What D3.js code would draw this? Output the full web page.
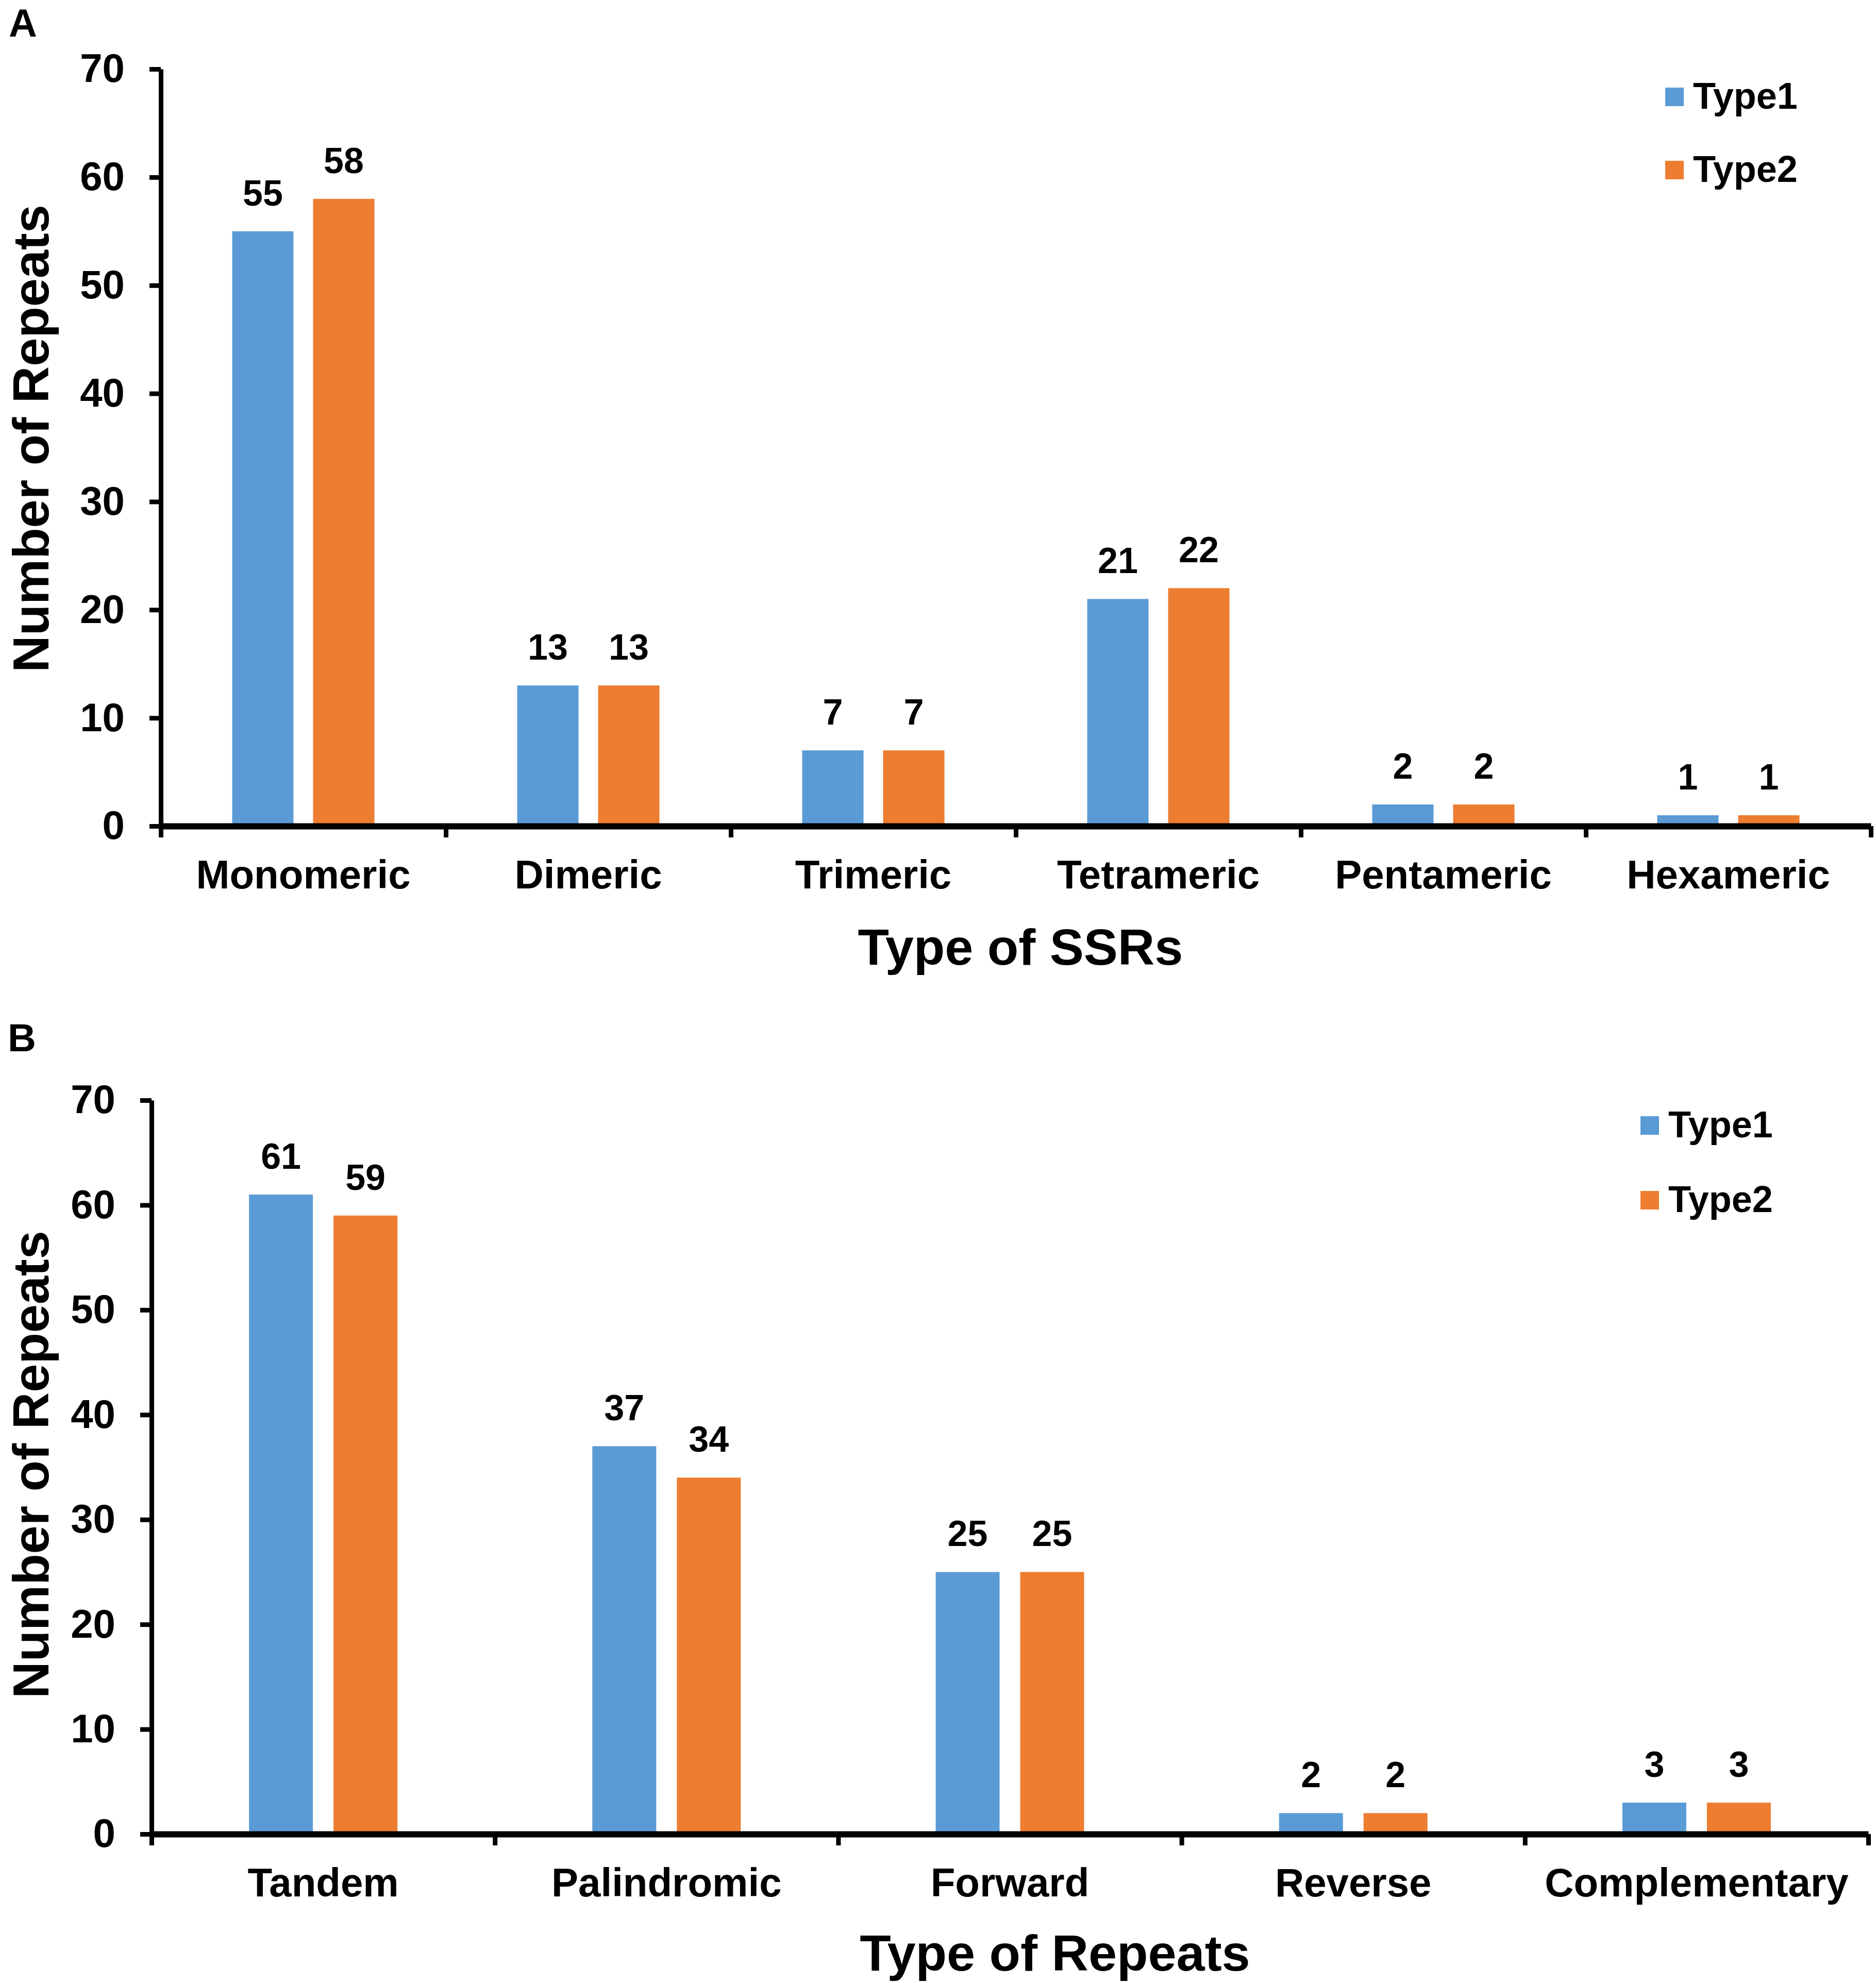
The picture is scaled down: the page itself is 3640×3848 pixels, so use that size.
<!DOCTYPE html>
<html>
<head>
<meta charset="utf-8">
<script src="https://cdn.jsdelivr.net/npm/d3@7"></script>
<style>
  body { margin: 0; background: #fff; }
  text { font-family: "Liberation Sans", Arial, sans-serif; font-weight: bold; fill: #000; }
</style>
</head>
<body>
<div class="viz"></div>
<script>
// data
var seriesNames = ["Type1", "Type2"];
var seriesColors = ["#5B9BD5", "#ED7D31"];
var yTicks = [0, 10, 20, 30, 40, 50, 60, 70];

var ssrCategories = ["Monomeric", "Dimeric", "Trimeric", "Tetrameric", "Pentameric", "Hexameric"];
var ssrType1 = [55, 13, 7, 21, 2, 1];
var ssrType2 = [58, 13, 7, 22, 2, 1];

var repeatCategories = ["Tandem", "Palindromic", "Forward", "Reverse", "Complementary"];
var repeatType1 = [61, 37, 25, 2, 3];
var repeatType2 = [59, 34, 25, 2, 3];

var W = 3640, H = 3848;

var svg = d3.select(".viz").append("svg")
    .attr("width", W)
    .attr("height", H);

svg.append("rect").attr("width", W).attr("height", H).attr("fill", "#fff");

var drawPanel = function(p) {
  var g = svg.append("g");

  // scales
  var x = d3.scaleBand().domain(p.categories).range([p.x0, p.x1]);
  var sub = d3.scaleBand().domain(seriesNames)
      .range([-(p.barW + p.gap / 2), p.barW + p.gap / 2])
      .paddingInner(p.gap / (p.barW + p.gap));
  var y = d3.scaleLinear().domain([0, 70]).range([p.y0, p.y1]);
  var xEdges = d3.scaleLinear().domain([0, p.categories.length]).range([p.x0, p.x1]);

  var rows = p.categories.map(function(c, i) {
    return { cat: c, vals: [p.s1[i], p.s2[i]] };
  });

  // bars + value labels
  rows.forEach(function(r) {
    seriesNames.forEach(function(s, k) {
      var cx = x(r.cat) + x.bandwidth() / 2 + sub(s);
      g.append("rect")
        .attr("x", cx)
        .attr("y", y(r.vals[k]))
        .attr("width", sub.bandwidth())
        .attr("height", y(0) - y(r.vals[k]))
        .attr("fill", seriesColors[k]);
      g.append("text")
        .attr("x", cx + sub.bandwidth() / 2)
        .attr("y", y(r.vals[k]) - 50)
        .attr("text-anchor", "middle")
        .attr("font-size", 70)
        .text(r.vals[k]);
    });
  });

  // y axis
  var ya = g.append("g")
    .attr("transform", "translate(" + p.x0 + ",0)")
    .call(d3.axisLeft(y).tickValues(yTicks).tickSize(22).tickSizeOuter(0).tickPadding(48));
  ya.select(".domain").attr("stroke-width", 9).attr("stroke", "#000");
  ya.selectAll(".tick line").attr("stroke-width", 9).attr("stroke", "#000");
  ya.selectAll(".tick text")
    .attr("font-size", 78)
    .attr("font-family", "'Liberation Sans', Arial, sans-serif")
    .attr("font-weight", "bold")
    .attr("fill", "#000");

  // x axis, ticks on category boundaries
  var xa = g.append("g")
    .attr("transform", "translate(0," + p.y0 + ")")
    .call(d3.axisBottom(xEdges).tickValues(d3.range(p.categories.length + 1))
      .tickFormat("").tickSize(22).tickSizeOuter(0));
  xa.select(".domain").attr("stroke-width", 12).attr("stroke", "#000");
  xa.selectAll(".tick line").attr("stroke-width", 9).attr("stroke", "#000");

  // category labels
  g.selectAll(".cat")
    .data(p.categories)
    .enter().append("text")
    .attr("x", function(d) { return x(d) + x.bandwidth() / 2; })
    .attr("y", p.y0 + 121)
    .attr("text-anchor", "middle")
    .attr("font-size", 78)
    .text(function(d) { return d; });

  // axis titles
  g.append("text")
    .attr("x", p.xTitleX)
    .attr("y", p.xTitleY)
    .attr("text-anchor", "middle")
    .attr("font-size", 99)
    .text(p.xTitle);

  g.append("text")
    .attr("transform", "translate(94," + p.yTitleY + ") rotate(-90)")
    .attr("text-anchor", "middle")
    .attr("font-size", 99)
    .text("Number of Repeats");

  // panel letter
  g.append("text")
    .attr("x", p.letterX)
    .attr("y", p.letterY)
    .attr("font-size", 76)
    .text(p.letter);

  // legend
  seriesNames.forEach(function(s, k) {
    g.append("rect")
      .attr("x", p.legX)
      .attr("y", p.legY + k * p.legStep)
      .attr("width", 36)
      .attr("height", 36)
      .attr("fill", seriesColors[k]);
    g.append("text")
      .attr("x", p.legX + 54)
      .attr("y", p.legY + 41 + k * p.legStep)
      .attr("font-size", 72)
      .text(s);
  });
};

drawPanel({
  categories: ssrCategories, s1: ssrType1, s2: ssrType2,
  x0: 312, x1: 3630, y0: 1603, y1: 134,
  barW: 119, gap: 38,
  xTitle: "Type of SSRs", xTitleX: 1980, xTitleY: 1872,
  yTitleY: 851,
  letter: "A", letterX: 17, letterY: 71,
  legX: 3231, legY: 170, legStep: 142
});

drawPanel({
  categories: repeatCategories, s1: repeatType1, s2: repeatType2,
  x0: 294, x1: 3625, y0: 3559, y1: 2135,
  barW: 124, gap: 40,
  xTitle: "Type of Repeats", xTitleX: 2047, xTitleY: 3824,
  yTitleY: 2842,
  letter: "B", letterX: 15, letterY: 2040,
  legX: 3183, legY: 2166, legStep: 145
});
</script>
</body>
</html>
